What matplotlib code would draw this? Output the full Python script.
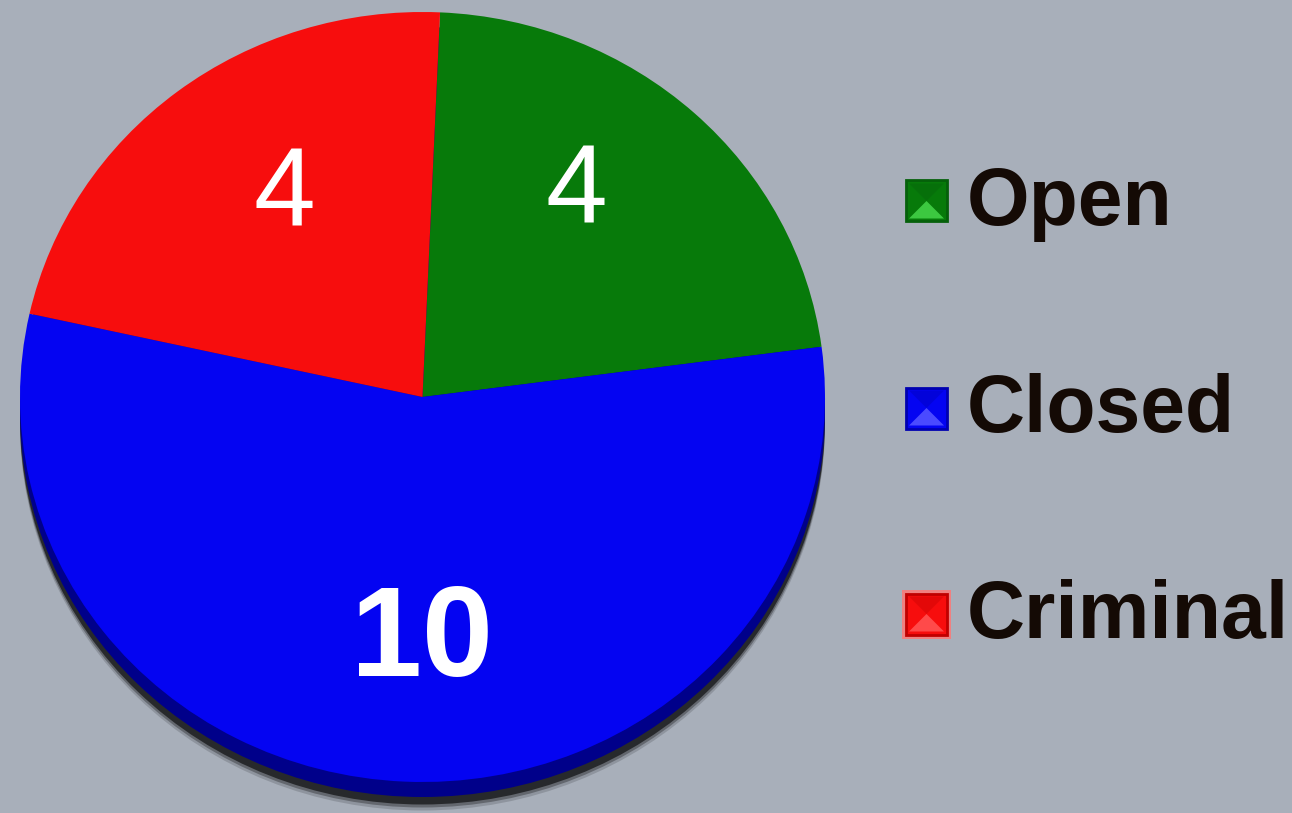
import numpy as np
import matplotlib.pyplot as plt
from matplotlib.patches import Ellipse, Rectangle, Polygon

# data
categories = ["Open", "Closed", "Criminal"]
counts = [4, 10, 4]
colors = ["#077A0A", "#0404F2", "#F70D0D"]
light = ["#3CC840", "#4A4AFF", "#FF4A4A"]
dark = ["#05600A", "#0000B0", "#C00000"]

bg = "#A8AFBA"
W, H = 1292, 813
fig = plt.figure(figsize=(W / 100, H / 100), dpi=100)
fig.patch.set_facecolor(bg)

# pie face box in pixels (left, top, width, height)
px0, py0, pw, ph = 20, 12, 805, 770
ax = fig.add_axes([px0 / W, 1 - (py0 + ph) / H, pw / W, ph / H])
ax.set_facecolor(bg)

# thickness + soft shadow
off = 2 * 15 / ph
for k, a in zip([1.9, 1.7, 1.5], [0.15, 0.3, 0.6]):
    ax.add_patch(Ellipse((0, -off * k), 2.0, 2.0, facecolor="black", alpha=a,
                         zorder=0, clip_on=False))
ax.add_patch(Ellipse((0, -off), 2.0, 2.0, facecolor="#00008A", zorder=1, clip_on=False))

total = sum(counts)
wedges, texts, autotexts = ax.pie(
    counts, colors=colors, startangle=87.5, counterclock=False,
    radius=1.0, autopct=lambda p: f"{p * total / 100:.0f}", pctdistance=0.64,
    wedgeprops=dict(linewidth=0, zorder=2),
    textprops=dict(color="white", family="Liberation Sans"))
for w in wedges:
    w.set_zorder(2)
    w.set_clip_on(False)

# nudge labels the way the reference has them
angle_shift = [8, 2.5, -5]
sizes = [80, 92, 80]
weights = ["normal", "bold", "normal"]
for t, a, s, wt in zip(autotexts, angle_shift, sizes, weights):
    x, y = t.get_position()
    r = np.hypot(x, y)
    th = np.arctan2(y, x) + np.radians(a)
    t.set_position((r * np.cos(th), r * np.sin(th)))
    t.set_fontsize(s)
    t.set_fontweight(wt)
    t.set_zorder(5)
for t, dx, dy in zip(autotexts, [0.02, 0.0, 0.0], [0.0, 0.0, -0.02]):
    x, y = t.get_position()
    t.set_position((x + dx, y + dy))

ax.set_aspect("auto")
ax.set_xlim(-1, 1)
ax.set_ylim(-1, 1)
ax.axis("off")

# legend drawn by hand with bevelled squares
lax = fig.add_axes([0, 0, 1, 1], facecolor="none")
lax.set_xlim(0, W)
lax.set_ylim(H, 0)
lax.axis("off")
leg_y = [201, 408, 614]
for name, c, lc, dc, y in zip(categories, colors, light, dark, leg_y):
    x0, s = 906, 41
    if name == "Criminal":
        lax.add_patch(Rectangle((x0 - 4, y - s / 2 - 4), s + 8, s + 8,
                                facecolor="#F08080", edgecolor="none"))
    lax.add_patch(Rectangle((x0, y - s / 2), s, s, facecolor=c, edgecolor=dc, linewidth=2))
    lax.add_patch(Polygon([(x0 + 3, y + s / 2 - 3), (x0 + s - 3, y + s / 2 - 3),
                           (x0 + s / 2, y)], closed=True, facecolor=lc, edgecolor="none"))
    lax.add_patch(Polygon([(x0 + 3, y - s / 2 + 3), (x0 + s - 3, y - s / 2 + 3),
                           (x0 + s / 2, y)], closed=True, facecolor=dc, alpha=0.35,
                          edgecolor="none"))
    lax.text(967, y + 3, name, fontsize=58, fontweight="bold", color="#140A05",
             family="Liberation Sans", va="center", ha="left")

fig.savefig("out.png", dpi=100, facecolor=bg)
